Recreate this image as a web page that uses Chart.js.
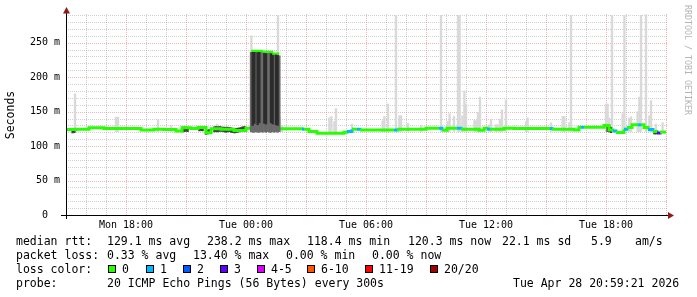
<!DOCTYPE html>
<html><head><meta charset="utf-8">
<script src="https://cdn.jsdelivr.net/npm/chart.js@4/dist/chart.umd.min.js"></script>
<style>html,body{margin:0;padding:0;background:#fff;}canvas{display:block;}</style>
</head><body>
<canvas id="c" width="697" height="297"></canvas>
<script>
// ---- axis ticks (x in hours since Mon 15:00) ----
const xTickHours = [3, 9, 15, 21, 27];
const xTickLabels = ['Mon 18:00', 'Tue 00:00', 'Tue 06:00', 'Tue 12:00', 'Tue 18:00'];
const yTickValues = [0, 50, 100, 150, 200, 250];
const yTickLabels = ['0  ', '50 m', '100 m', '150 m', '200 m', '250 m'];

// ---- median rtt (ms), step changes, with lost pings per step ----
const medianTimes = [0, 0.5, 1.15, 1.9, 3.75, 4.4, 4.9, 5.5, 5.8, 6.25, 6.6, 7.0, 7.25, 7.75, 8.4, 9.0, 9.333, 9.79, 10.29, 10.583, 11.8, 11.9, 12.15, 12.55, 13.9, 14.05, 14.3, 14.55, 14.7, 16.4, 16.55, 18.0, 18.65, 18.8, 19.05, 19.55, 19.75, 20.65, 20.9, 21.05, 21.2, 21.9, 22.4, 24.2, 24.3, 25.4, 25.65, 25.75, 25.9, 26.9, 27.15, 27.35, 27.5, 27.9, 28.05, 28.3, 28.6, 28.75, 28.9, 29.1, 29.35, 29.55, 29.7, 30];
const medianValues = [124, 124.5, 126.5, 125.5, 123.5, 124.5, 124, 122, 126.5, 125.5, 127, 119.5, 125, 124.5, 122.5, 126, 237.5, 236, 233.5, 125, 124.5, 124.5, 121, 118.7, 120, 121, 124.5, 124.5, 123.5, 123.5, 124.5, 126, 126, 123, 126, 126, 124.6, 123, 126, 124.6, 124.6, 126, 125.5, 125.5, 124.6, 123.5, 127.3, 127.3, 127.3, 129.8, 123.5, 122, 119.6, 124.5, 127, 130.8, 130.8, 130.8, 127, 124, 121, 119, 120.3, 120.3];
const medianLoss = [0,0,0,0,0,0,0,0,0,0,0,0,0,0,0,0,0,0,0,0, 1,0,0,0,0,1,0,1,0,1, 0,0,1,0,0,1,0,0,0,1, 0,0,0,1,0,0,0,1,0,0, 0,1,0,1,0,0,1,0,0,1, 0,3,0,0];

// ---- smoke: light spikes (max ping) ----
const spikeTimes = [0.45, 2.5, 2.6, 4.6, 5.25, 7.55, 9.27, 10.6, 10.68, 10.8, 13.17, 13.27, 13.42, 13.5, 14.3, 15.83, 15.92, 16.1, 16.5, 16.67, 16.75, 17.1, 17.75, 18.75, 19.1, 19.18, 19.4, 19.6, 19.68, 19.82, 19.92, 20.0, 20.42, 20.5, 20.6, 20.7, 21.15, 21.25, 21.5, 21.58, 21.7, 21.8, 22.0, 23.0, 23.08, 24.25, 24.83, 24.92, 25.17, 25.25, 27.0, 27.08, 27.17, 27.3, 27.83, 27.92, 28.17, 28.25, 28.58, 28.67, 28.75, 29.0, 29.17, 29.25, 29.5, 29.83];
const spikeMax = [176, 142, 142, 138.5, 130, 132, 260, 295, 142, 130, 141, 143, 135.6, 154.5, 132, 136.6, 143, 161, 295, 144, 144, 133, 130, 295, 136, 147, 143, 295, 295, 144, 180, 161, 137, 137, 149, 171, 131, 139, 131, 131, 139, 152.6, 167, 135.6, 141, 133.7, 143, 143, 134, 295, 161, 161, 140.5, 295, 147, 295, 140.5, 142.4, 150, 171, 295, 295, 144, 166, 132, 134];
const spikeMin = 121;

// ---- smoke: high-latency block ----
const blockTimes = [9.25, 9.333, 9.417, 9.5, 9.583, 9.667, 9.75, 9.833, 9.917, 10.0, 10.083, 10.167, 10.25, 10.333, 10.417, 10.5, 10.583, 10.667];
const blockLow  = [121, 120, 120, 121, 120, 120, 121, 120, 121, 120, 121, 120, 120, 121, 120, 121, 120, 121];
const blockHigh = [236, 236, 236, 236, 236, 236, 235.5, 235, 234.5, 234.5, 234.5, 234.5, 234, 232, 232, 232, 231.5, 231];
const darkLow   = [null, 130, 133, null, 131, 134, null, null, 133, 132, null, null, 134, 132, null, 131, 130, null];
const darkHigh  = [null, 236, 236, null, 235.5, 236, null, null, 234.5, 234, null, null, 234, 231.5, null, 232, 231.5, null];

// ---- smoke: dark band close to the median ----
const nearTimes = [0.33, 0.42, 5.83, 5.92, 6.0, 6.08, 6.67, 6.75, 6.83, 7.0, 7.08, 7.17, 7.42, 7.5, 7.58, 7.67, 7.75, 7.83, 7.92, 8.0, 8.08, 8.17, 8.25, 8.33, 8.42, 8.5, 8.58, 8.67, 8.75, 8.83, 8.92, 27.08, 27.17, 27.25, 29.42, 29.5];
const nearLow  = [119, 119.5, 120.5, 121, 121.5, 121, 122, 122.5, 122, 117, 117.5, 118, 120.5, 121, 120.5, 121, 121.5, 121, 120.5, 120, 120.5, 121, 120, 119.5, 119, 119.5, 120, 120.5, 121, 121.5, 122, 121, 120.5, 119.5, 117.5, 117.5];
const nearHigh = [124, 124.5, 127.5, 128, 127, 127.5, 128.5, 128.5, 128, 123, 123.5, 124, 128, 128.5, 128, 128.5, 128, 127.5, 127.5, 127, 127.5, 127, 126.5, 126, 125.5, 125.5, 126, 126.5, 127, 128, 128.5, 130, 129, 127, 122.5, 122];

// ---- legend ----
const lossBuckets = ['0', '1', '2', '3', '4-5', '6-10', '11-19', '20/20'];
const lossColors = ['#26ff00', '#00b8ff', '#0059ff', '#5e00ff', '#dd00ff', '#ff5500', '#ff0000', '#a10000'];
const rttStats = ['129.1 ms avg', '238.2 ms max', '118.4 ms min', '120.3 ms now', '22.1 ms sd', '5.9', 'am/s'];
const lossStats = ['0.33 % avg', '13.40 % max', '0.00 % min', '0.00 % now'];
const probeText = '20 ICMP Echo Pings (56 Bytes) every 300s';
const stampText = 'Tue Apr 28 20:59:21 2026';
const watermark = 'RRDTOOL / TOBI OETIKER';

function bucketOf(n) { if (n <= 3) return n; if (n <= 5) return 4; if (n <= 10) return 5; if (n <= 19) return 6; return 7; }
const pts = (xs, ys) => xs.map((x, i) => ({x: x, y: ys[i]}));
const bars = (xs, lo, hi) => xs.map((x, i) => (lo[i] == null ? null : {x: x, y: [lo[i], hi[i]]})).filter(Boolean);

const MONO = "'DejaVu Sans Mono', monospace";
const GRID_MINOR = 'rgba(150,150,150,0.45)';
const GRID_MAJOR = 'rgba(225,110,110,0.5)';
const BAR_W = 1.7;

// dotted grid drawn through the chart's own scales
const dottedGrid = {
  id: 'dottedGrid',
  beforeDatasetsDraw(chart) {
    const {ctx, chartArea: a, scales: {x, y}} = chart;
    ctx.save();
    ctx.lineWidth = 1;
    ctx.setLineDash([1, 1]);
    for (let h = 1; h <= 30; h++) {
      const px = Math.round(x.getPixelForValue(h)) + 0.5;
      if (px > a.right + 1) continue;
      ctx.strokeStyle = h % 3 === 0 ? GRID_MAJOR : GRID_MINOR;
      ctx.beginPath(); ctx.moveTo(px, a.bottom); ctx.lineTo(px, a.top - 1); ctx.stroke();
    }
    for (let v = 10; v <= 290; v += 10) {
      const py = Math.round(y.getPixelForValue(v)) + 0.5;
      ctx.strokeStyle = v % 50 === 0 ? GRID_MAJOR : GRID_MINOR;
      ctx.beginPath(); ctx.moveTo(a.left, py); ctx.lineTo(a.right + 2, py); ctx.stroke();
    }
    ctx.restore();
  }
};

const decor = {
  id: 'decor',
  afterDraw(chart) {
    const {ctx, chartArea: a} = chart;
    ctx.save();
    ctx.strokeStyle = '#000';
    ctx.lineWidth = 1;
    ctx.beginPath();
    ctx.moveTo(a.left - 5, a.bottom + 0.5); ctx.lineTo(a.right + 2, a.bottom + 0.5);
    ctx.moveTo(a.left + 0.5, a.bottom + 4); ctx.lineTo(a.left + 0.5, a.top - 2);
    ctx.stroke();
    ctx.fillStyle = '#8c1c1c';
    ctx.beginPath();
    ctx.moveTo(a.left + 0.5, a.top - 8);
    ctx.lineTo(a.left - 3, a.top - 1.5);
    ctx.lineTo(a.left + 4, a.top - 1.5);
    ctx.closePath(); ctx.fill();
    ctx.beginPath();
    ctx.moveTo(a.right + 8, a.bottom + 0.5);
    ctx.lineTo(a.right + 2, a.bottom - 3);
    ctx.lineTo(a.right + 2, a.bottom + 4);
    ctx.closePath(); ctx.fill();

    ctx.save();
    ctx.translate(687.5, 5);
    ctx.rotate(Math.PI / 2);
    ctx.font = '8.3px ' + MONO;
    ctx.fillStyle = '#b4b4b4';
    ctx.textAlign = 'left';
    ctx.textBaseline = 'middle';
    ctx.fillText(watermark, 0, 0);
    ctx.restore();

    ctx.font = '11.5px ' + MONO;
    ctx.fillStyle = '#000';
    ctx.textAlign = 'left';
    ctx.textBaseline = 'alphabetic';
    const b1 = 245, b2 = 259, b3 = 273, b4 = 287;
    ctx.fillText('median rtt:', 16, b1);
    const rttX = [107, 207, 307, 408, 502, 591, 635];
    rttStats.forEach((s, i) => ctx.fillText(s, rttX[i], b1));
    ctx.fillText('packet loss:', 16, b2);
    const lossX = [107, 193, 286, 372];
    lossStats.forEach((s, i) => ctx.fillText(s, lossX[i], b2));
    ctx.fillText('loss color:', 16, b3);
    const boxX = [108, 146, 183, 220, 257, 307, 365, 430];
    lossBuckets.forEach((s, i) => {
      ctx.fillStyle = lossColors[i];
      ctx.fillRect(boxX[i], 265, 8, 8);
      ctx.strokeStyle = '#000';
      ctx.strokeRect(boxX[i] + 0.5, 265.5, 7, 7);
      ctx.fillStyle = '#000';
      ctx.fillText(s, boxX[i] + 14, b3);
    });
    ctx.fillText('probe:', 16, b4);
    ctx.fillText(probeText, 107, b4);
    ctx.fillText(stampText, 513, b4);
    ctx.restore();
  }
};

new Chart(document.getElementById('c'), {
  type: 'bar',
  data: {
    datasets: [
      {
        type: 'bar', label: 'block dark', data: bars(blockTimes, darkLow, darkHigh),
        backgroundColor: '#2c2c2c', barThickness: BAR_W, grouped: false, order: 0, borderWidth: 0
      },
      {
        type: 'bar', label: 'block', data: bars(blockTimes, blockLow, blockHigh),
        backgroundColor: '#6a6a6a', barThickness: BAR_W, grouped: false, order: 1, borderWidth: 0
      },
      {
        type: 'line', label: 'median rtt', data: pts(medianTimes, medianValues),
        stepped: true, borderWidth: 3, pointRadius: 0, borderColor: lossColors[0],
        borderCapStyle: 'butt', borderJoinStyle: 'miter', fill: false, order: 2,
        segment: { borderColor: c => lossColors[bucketOf(medianLoss[c.p0DataIndex])] }
      },
      {
        type: 'bar', label: 'near smoke', data: bars(nearTimes, nearLow, nearHigh),
        backgroundColor: '#404040', barThickness: BAR_W, grouped: false, order: 3, borderWidth: 0
      },
      {
        type: 'bar', label: 'max smoke', data: bars(spikeTimes, spikeTimes.map(() => spikeMin), spikeMax),
        backgroundColor: '#d9d9d9', barThickness: BAR_W, grouped: false, order: 4, borderWidth: 0
      }
    ]
  },
  options: {
    responsive: false,
    animation: false,
    devicePixelRatio: 1,
    layout: { padding: { left: 0, right: 31, top: 15, bottom: 0 } },
    plugins: { legend: { display: false }, tooltip: { enabled: false } },
    scales: {
      x: {
        type: 'linear', min: 0, max: 30, offset: false,
        afterFit: s => { s.height = 82; },
        grid: { display: false, drawTicks: false },
        border: { display: false },
        ticks: {
          stepSize: 1, autoSkip: false, maxRotation: 0, padding: 4, color: '#000',
          font: { family: MONO, size: 10 },
          callback: v => { const i = xTickHours.indexOf(Math.round(v * 100) / 100); return i >= 0 ? xTickLabels[i] : ''; }
        }
      },
      y: {
        type: 'linear', min: 0, max: 290.2,
        afterFit: s => { s.width = 66; },
        grid: { display: false, drawTicks: false },
        border: { display: false },
        title: { display: true, text: 'Seconds', color: '#000', font: { family: MONO, size: 11.5 }, padding: { top: 4, bottom: 0 } },
        ticks: {
          stepSize: 10, autoSkip: false, includeBounds: false, padding: 6, color: '#000',
          font: { family: MONO, size: 10 },
          callback: v => { const i = yTickValues.indexOf(Math.round(v)); return (i >= 0 && Math.abs(v - Math.round(v)) < 1e-6) ? yTickLabels[i] : ''; }
        }
      }
    }
  },
  plugins: [dottedGrid, decor]
});
</script>
</body></html>
